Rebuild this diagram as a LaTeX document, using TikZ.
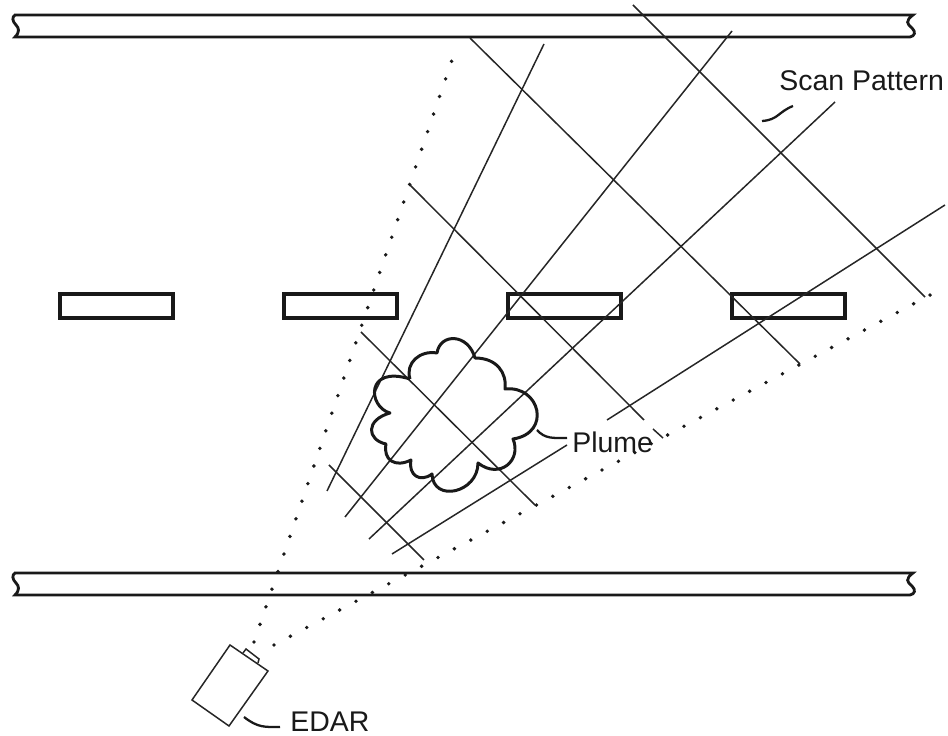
\documentclass[tikz,border=0pt]{standalone}
\usepackage{fontspec}
\setmainfont{Liberation Sans}
\usepackage{xcolor}
\usetikzlibrary{arrows.meta,positioning}
\tikzset{
road/.style={line width=1.6pt,black!90},
lane/.style={draw=black!90,line width=2pt},
scan/.style={line width=0.85pt,black!85},
fan/.style={line width=2.2pt,line cap=round,dash pattern=on 0pt off 10.58pt,black!90},
lead/.style={line width=1.3pt,black!90},
tag/.style={inner sep=0pt,font=\fontsize{16.2}{18}\selectfont,text=black!90}
}
\begin{document}
\begin{tikzpicture}[x=0.02cm,y=-0.02cm]
\useasboundingbox (0,0) rectangle (948,736);
% roads
\foreach \y/\n in {15/top,573/bot}{
\draw[road] (15,\y)--(913,\y) .. controls (905,\y+6) and (907,\y+9) .. (912,\y+13) .. controls (916,\y+17) and (915,\y+21) .. (910,\y+22)--(15,\y+22) .. controls (20,\y+17) and (19,\y+13) .. (16,\y+10) .. controls (12,\y+6) and (12,\y+2) .. (15,\y)--cycle;
}
% lane marks
\foreach \x/\n in {58/a,282/b,506/c,730/d}{
\node[lane,minimum width=0.02cm*113,minimum height=0.02cm*24,inner sep=0pt,anchor=north west] (mark\n) at (\x,292) {};
}
% view edges
\draw[fan] (254,642)--(452,60);
\draw[fan] (274,645)--(932,294);
% fan of beams
\draw[scan] (327,491)--(544,44);
\draw[scan] (345,517)--(732,31);
\draw[scan] (369,539)--(835,102);
\draw[scan] (392,554)--(567,445);
\draw[scan] (607,420)--(945,205);
% cross lines
\draw[scan] (329,465)--(424,560);
\draw[scan] (361,332)--(535,505);
\draw[scan] (410,185)--(644,420);
\draw[scan] (653,429)--(663,438);
\draw[scan] (470,38)--(800,364);
\draw[scan] (633,5)--(925,297);
% plume
\draw[line width=1.7pt,black!90,line join=round] (410,379) .. controls (405,363) and (420,350) .. (437,353)
.. controls (440,333) and (468,333) .. (475,358)
.. controls (497,358) and (507,373) .. (505,389)
.. controls (540,385) and (552,433) .. (513,439)
.. controls (522,460) and (500,480) .. (478,463)
.. controls (478,493) and (433,503) .. (432,474)
.. controls (420,483) and (408,475) .. (411,460)
.. controls (395,468) and (383,460) .. (386,444)
.. controls (367,440) and (365,420) .. (390,413)
.. controls (368,407) and (365,365) .. (410,379);
% camera
\draw[line width=0.85pt,black!85] (230,645)--(268,671)--(229,726)--(192,700)--cycle;
\draw[line width=0.85pt,black!85] (243,653)--(246,649)--(259,659)--(258,663);
% labels
\node[tag,anchor=west] (plume) at (572,442) {Plume};
\node[tag,anchor=west] (scanlabel) at (779,81) {Scan Pattern};
\node[tag,anchor=west] (edar) at (290,722) {EDAR};
\coordinate (plumeend) at (537,430);
\coordinate (plumetip) at (567,438);
\coordinate (scanend) at (762,121);
\coordinate (scantip) at (793,106);
\coordinate (edarend) at (244,717);
\coordinate (edartip) at (280,727);
\draw[lead] (plumeend) .. controls (545,439) and (553,438) .. (plumetip);
\draw[lead] (scanend) .. controls (778,120) and (778,112) .. (scantip);
\draw[lead] (edarend) .. controls (258,728) and (265,727) .. (edartip);
\end{tikzpicture}
\end{document}
